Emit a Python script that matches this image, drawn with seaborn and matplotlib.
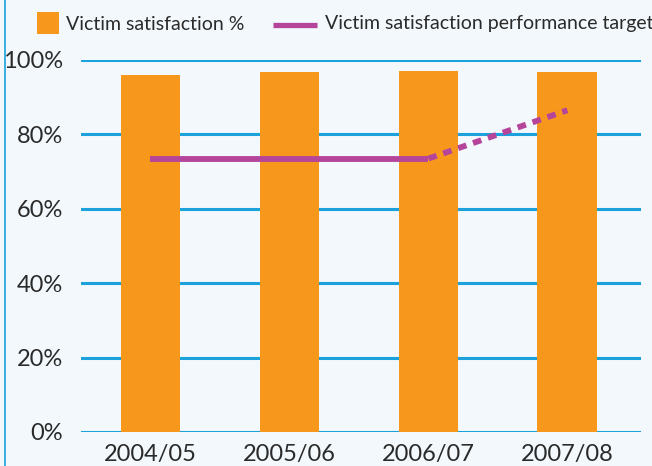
import numpy as np
import pandas as pd
import matplotlib
matplotlib.use("Agg")
import matplotlib.pyplot as plt
import seaborn as sns
from matplotlib.patches import Rectangle
from matplotlib.lines import Line2D

# data
years        = ["2004/05", "2005/06", "2006/07", "2007/08"]
satisfaction = [96.0, 96.8, 97.0, 96.8]
target       = [73.5, 73.5, 73.5, 86.5]
y_ticks      = [0, 20, 40, 60, 80, 100]
legend_labels = ["Victim satisfaction %", "Victim satisfaction performance target"]

BG      = "#f2f8fb"
ORANGE  = "#f7981d"
MAGENTA = "#b5449b"
BLUE    = "#1ba1dc"
TEXT    = "#2a2a2a"

sns.set_theme(style="white")
plt.rcParams["font.family"] = ["Lato", "DejaVu Sans"]

W, H = 652, 466
df = pd.DataFrame({"year": years, "sat": satisfaction, "target": target})

fig = plt.figure(figsize=(W / 100, H / 100), dpi=100, facecolor=BG)
ax = fig.add_axes([81 / W, 1 - 432 / H, 560 / W, 372 / H])
ax.set_facecolor(BG)

# grid lines behind bars
for t in y_ticks:
    ax.axhline(t, color=BLUE, lw=2.2, zorder=0)

sns.barplot(data=df, x="year", y="sat", color=ORANGE, width=0.43,
            saturation=1, linewidth=0, ax=ax, zorder=2)

# target line: solid for first three years, dashed for projection
pos = np.arange(len(years))
ax.plot(pos[:3], target[:3], color=MAGENTA, lw=4.2, solid_capstyle="butt", zorder=3)
ax.plot(pos[2:], target[2:], color=MAGENTA, lw=4.2, ls=(0, (1.5, 1.2)), zorder=3)

ax.set_xlim(-0.5, 3.53)
ax.set_ylim(0, 100)
ax.set_yticks(y_ticks)
ax.set_yticklabels([f"{t}%" for t in y_ticks], fontsize=17, color=TEXT)
ax.tick_params(axis="x", labelsize=17, colors=TEXT, length=0, pad=9)
ax.tick_params(axis="y", length=0, pad=13)
ax.set_xlabel("")
ax.set_ylabel("")
for s in ax.spines.values():
    s.set_visible(False)
for lbl in ax.get_xticklabels() + ax.get_yticklabels():
    lbl.set_clip_on(False)

# left border stripe
fig.add_artist(Line2D([5 / W, 5 / W], [0, 1], color=BLUE, lw=1.2))

# legend drawn by hand: square swatch + short line
fig.add_artist(Rectangle((37 / W, 1 - 34 / H), 22 / W, 22 / H,
                         transform=fig.transFigure, color=ORANGE, lw=0))
fig.text(66 / W, 1 - 24 / H, legend_labels[0], fontsize=14, color=TEXT, va="center")
fig.add_artist(Line2D([273 / W, 317 / W], [1 - 25 / H, 1 - 25 / H],
                      color=MAGENTA, lw=3.8, solid_capstyle="butt"))
fig.text(325 / W, 1 - 24 / H, legend_labels[1], fontsize=14, color=TEXT, va="center")

fig.savefig("out.png", dpi=100, facecolor=BG)
